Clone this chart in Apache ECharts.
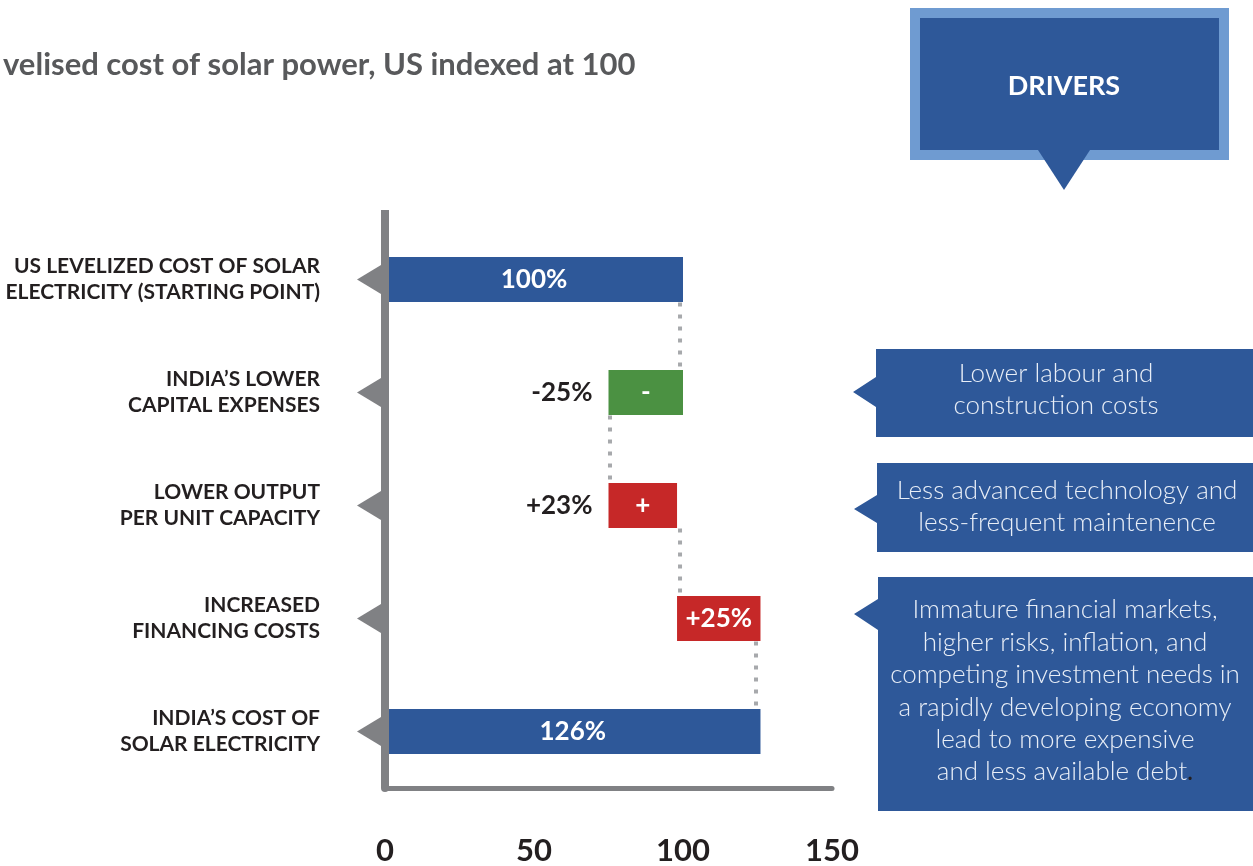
<!DOCTYPE html>
<html>
<head>
<meta charset="utf-8">
<script src="https://cdn.jsdelivr.net/npm/echarts@6/dist/echarts.min.js"></script>
<style>
    html, body { margin: 0; padding: 0; background: #fff; }
    #chart { width: 1253px; height: 866px; }
</style>
</head>
<body>
<div id="chart"></div>
<script>
// 数据
var categories = [
    'US LEVELIZED COST OF SOLAR\nELECTRICITY (STARTING POINT)',
    'INDIA\u2019S LOWER\nCAPITAL EXPENSES',
    'LOWER OUTPUT\nPER UNIT CAPACITY',
    'INCREASED\nFINANCING COSTS',
    'INDIA\u2019S COST OF\nSOLAR ELECTRICITY'
];
var baseVals = [0, 75, 75, 98, 0];          // 透明底座
var barVals = [100, 25, 23, 28, 126];       // 可见部分
var innerLabels = ['100%', '-', '+', '+25%', '126%'];
var outerLabels = ['', '-25%', '+23%', '', ''];
var connectorVals = [99, 75.5, 99, 124.5];  // 虚线连接位置
var xTicks = [0, 50, 100, 150];

var BLUE = '#2e5899', GREEN = '#4b9142', RED = '#c62828', GREY = '#808184';
var barColors = [BLUE, GREEN, RED, RED, BLUE];

var myChart = echarts.init(document.getElementById('chart'));

var myOption = {
    animation: false,
    title: {
        text: 'velised cost of solar power, US indexed at 100',
        left: -2,
        top: 44,
        textStyle: {fontFamily: 'Lato', fontSize: 31, fontWeight: 'bold', color: '#58595b'}
    },
    grid: {left: 385, top: 223, width: 447, height: 566},
    xAxis: {
        type: 'value',
        min: 0,
        max: 150,
        interval: 50,
        axisLine: {show: true, lineStyle: {color: GREY, width: 5}},
        axisTick: {show: false},
        splitLine: {show: false},
        axisLabel: {
            margin: 47,
            fontFamily: 'Lato',
            fontSize: 31,
            fontWeight: 'bold',
            color: '#231f20',
            formatter: function (v) { return xTicks.indexOf(v) > -1 ? String(v) : ''; }
        }
    },
    yAxis: {
        type: 'category',
        inverse: true,
        data: categories,
        z: 5,
        axisLine: {show: true, lineStyle: {color: GREY, width: 8}},
        axisTick: {show: false},
        axisLabel: {
            margin: 65,
            fontFamily: 'Lato',
            fontSize: 21,
            fontWeight: 'bold',
            lineHeight: 26,
            color: '#231f20'
        }
    },
    series: [
        {
            name: 'base',
            type: 'bar',
            stack: 'w',
            barWidth: 45,
            itemStyle: {color: 'transparent'},
            label: {
                show: true,
                position: 'insideRight',
                distance: 16,
                fontFamily: 'Lato',
                fontSize: 26,
                fontWeight: 'bold',
                color: '#231f20',
                formatter: function (p) { return outerLabels[p.dataIndex]; }
            },
            data: baseVals
        },
        {
            name: 'value',
            type: 'bar',
            stack: 'w',
            barWidth: 45,
            label: {
                show: true,
                position: 'inside',
                fontFamily: 'Lato',
                fontSize: 26,
                fontWeight: 'bold',
                color: '#fff',
                formatter: function (p) { return innerLabels[p.dataIndex]; }
            },
            data: barVals.map(function (v, i) {
                return {value: v, itemStyle: {color: barColors[i]}};
            })
        },
        {
            // 虚线连接
            type: 'custom',
            z: 1,
            renderItem: function (params, api) {
                var top = api.coord([api.value(0), api.value(1)]);
                var bot = api.coord([api.value(0), api.value(1) + 1]);
                return {
                    type: 'line',
                    shape: {x1: top[0], y1: top[1] + 23, x2: bot[0], y2: bot[1] - 23},
                    style: {stroke: '#a7a9ac', lineWidth: 4, lineDash: [4, 8]}
                };
            },
            data: connectorVals.map(function (v, i) { return [v, i]; })
        },
        {
            // 轴上三角
            type: 'scatter',
            clip: false,
            symbol: 'path://M0,14.5 L24,0 L24,29 Z',
            symbolSize: [24, 29],
            symbolOffset: [-16, 0],
            itemStyle: {color: GREY, opacity: 1},
            data: categories.map(function (c, i) { return [0, i]; })
        }
    ],
    graphic: [
        // 纵轴顶部延长
        {type: 'rect', shape: {x: 381, y: 210, width: 8, height: 14}, style: {fill: GREY}},

        {type: 'rect', shape: {x: 910, y: 8, width: 319, height: 152}, style: {fill: '#6f9bd1'}},
        {type: 'rect', shape: {x: 920, y: 18, width: 299, height: 132}, style: {fill: BLUE}},
        {type: 'polygon', shape: {points: [[1038, 150], [1090, 150], [1064, 190]]}, style: {fill: BLUE}},
        {type: 'text', x: 1064, y: 86, style: {text: 'DRIVERS', align: 'center', verticalAlign: 'middle',
            fontFamily: 'Lato', fontSize: 27, fontWeight: 'bold', fill: '#fff'}},

        {type: 'polygon', shape: {points: [[876, 349], [1253, 349], [1253, 437], [876, 437], [876, 407], [853, 392], [876, 377]]}, style: {fill: BLUE}},
        {type: 'text', x: 1056, y: 390, style: {text: 'Lower labour and\nconstruction costs', align: 'center', verticalAlign: 'middle',
            fontFamily: 'Lato', fontSize: 26, fontWeight: 300, lineHeight: 32, fill: '#e8eef7'}},

        {type: 'polygon', shape: {points: [[877, 463], [1253, 463], [1253, 552], [877, 552], [877, 523], [854, 509], [877, 495]]}, style: {fill: BLUE}},
        {type: 'text', x: 1067, y: 507, style: {text: 'Less advanced technology and\nless-frequent maintenence', align: 'center', verticalAlign: 'middle',
            fontFamily: 'Lato', fontSize: 26, fontWeight: 300, lineHeight: 32, fill: '#e8eef7'}},

        {type: 'polygon', shape: {points: [[878, 577], [1253, 577], [1253, 811], [878, 811], [878, 630], [854, 614], [878, 599]]}, style: {fill: BLUE}},
        {type: 'text', x: 1065, y: 691, style: {
            text: 'Immature financial markets,\nhigher risks, inflation, and\ncompeting investment needs in\na rapidly developing economy\nlead to more expensive\nand less available debt{d|.}',
            align: 'center', verticalAlign: 'middle',
            fontFamily: 'Lato', fontSize: 26, fontWeight: 300, lineHeight: 32.4, fill: '#e8eef7',
            rich: {d: {fontFamily: 'Lato', fontSize: 26, lineHeight: 32.4, fill: '#231f20', color: '#231f20'}}
        }}
    ]
};
myChart.setOption(myOption);

window.onresize = function () {
    myChart.resize();
};
</script>
</body>
</html>
